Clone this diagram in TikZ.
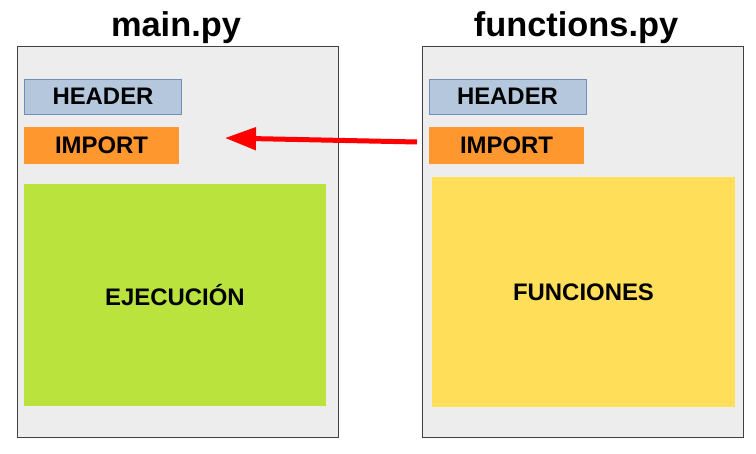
\documentclass[tikz,border=0pt]{standalone}
\usepackage{fontspec}
\setmainfont{Liberation Sans}
\usetikzlibrary{arrows.meta}

\definecolor{panelgray}{HTML}{EDEDED}
\definecolor{headblue}{HTML}{B4C7DC}
\definecolor{headedge}{HTML}{6F8FB5}
\definecolor{imporange}{HTML}{FF972F}
\definecolor{exegreen}{HTML}{BBE33D}
\definecolor{funyellow}{HTML}{FFDE59}

\begin{document}
\begin{tikzpicture}[x=1bp, y=-1bp,
   file/.style={rectangle, draw=black!75, line width=0.8bp, fill=panelgray, minimum width=321bp, minimum height=391bp, inner sep=0pt},
   title/.style={anchor=base, font=\bfseries\fontsize{34.5}{38}\selectfont},
   block/.style={rectangle, inner sep=0pt, font=\bfseries\fontsize{24}{27}\selectfont},
   header/.style={block, draw=headedge, line width=0.8bp, fill=headblue, minimum width=157bp, minimum height=35bp},
   import/.style={block, fill=imporange, minimum width=155bp, minimum height=37bp},
   transition/.style={-{Triangle[length=31bp,width=22bp]}, red, line width=5bp}]
\useasboundingbox (0,0) rectangle (756,454);

\node[title] (tmain) at (176, 37) {main.py};
\node[title] (tfun) at (576, 37) {functions.py};

\node[file] (main) at (177.5, 241.5) {};
\node[file] (fun) at (582.5, 241.5) {};

\node[header] (hm) at (103, 96.5) {HEADER};
\node[import] (im) at (101.5, 145.5) {IMPORT};
\node[block, fill=exegreen, minimum width=302bp, minimum height=222bp] (ej) at (175, 295) {EJECUCIÓN};

\node[header] (hf) at (507.5, 96.5) {HEADER};
\node[import] (imf) at (506.5, 145.5) {IMPORT};
\node[block, fill=funyellow, minimum width=303bp, minimum height=230bp] (fn) at (583.5, 292) {FUNCIONES};

\coordinate (src) at (417, 142);
\coordinate (dst) at (225, 138);

\path
    (src) edge[transition] (dst)
;

\end{tikzpicture}
\end{document}
